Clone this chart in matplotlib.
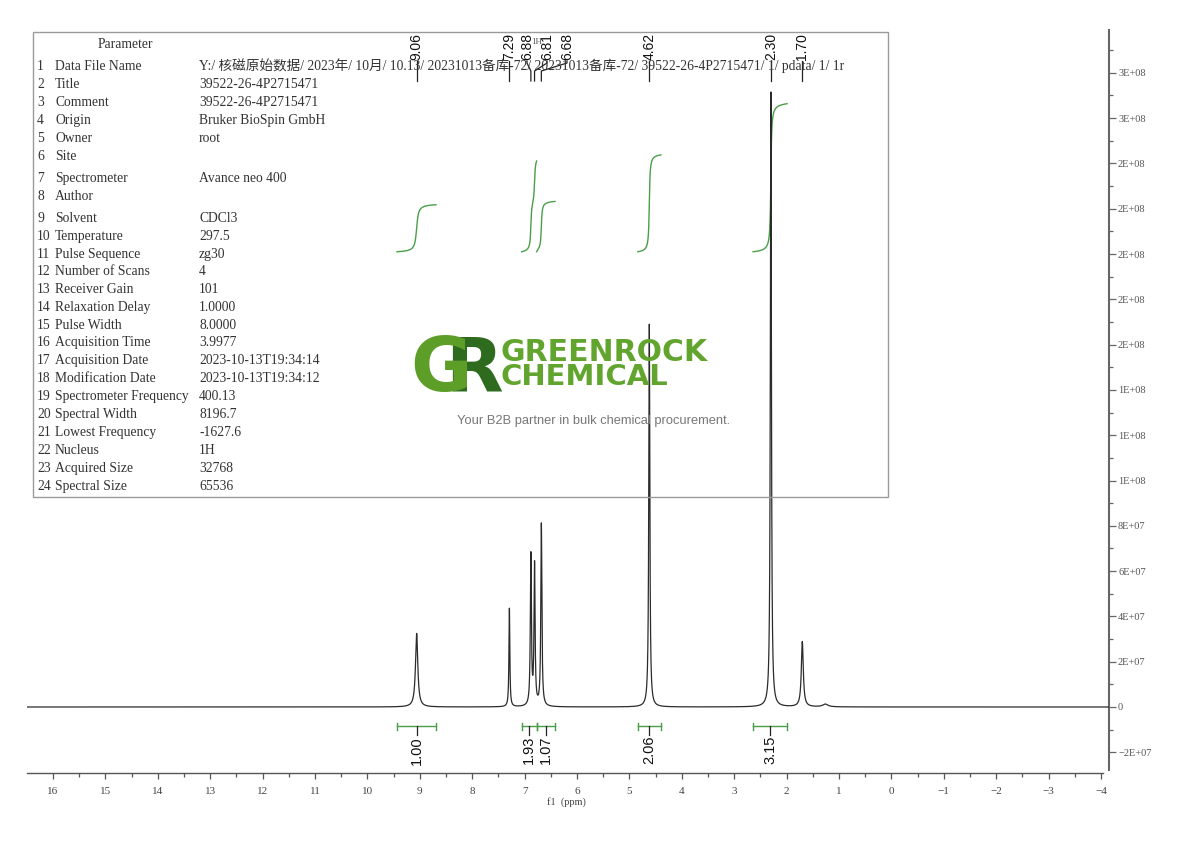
import numpy as np
import matplotlib
matplotlib.use('Agg')
import matplotlib.pyplot as plt
from matplotlib.ticker import FixedLocator, FuncFormatter
from matplotlib.transforms import blended_transform_factory

# ---------------- data ----------------
peak_ppm = [9.06, 7.29, 6.88, 6.81, 6.68, 4.62, 2.30, 1.70, 1.26]
peak_height = [3.25e7, 4.35e7, 6.65e7, 6.2e7, 8.05e7, 1.69e8, 2.715e8, 2.88e7, 1.2e6]
peak_hwhm = [0.026, 0.010, 0.012, 0.012, 0.012, 0.012, 0.012, 0.022, 0.06]

peak_labels = ['9.06', '7.29', '6.88', '6.81', '6.68', '4.62', '2.30', '1.70']
peak_label_ppm = [9.06, 7.29, 6.88, 6.81, 6.68, 4.62, 2.30, 1.70]

integral_from = [9.435, 7.055, 6.77, 4.84, 2.64]
integral_to = [8.69, 6.77, 6.42, 4.40, 1.99]
integral_values = [1.00, 1.93, 1.07, 2.06, 3.15]

param_names = ['Data File Name', 'Title', 'Comment', 'Origin', 'Owner', 'Site',
               'Spectrometer', 'Author', 'Solvent', 'Temperature', 'Pulse Sequence',
               'Number of Scans', 'Receiver Gain', 'Relaxation Delay', 'Pulse Width',
               'Acquisition Time', 'Acquisition Date', 'Modification Date',
               'Spectrometer Frequency', 'Spectral Width', 'Lowest Frequency',
               'Nucleus', 'Acquired Size', 'Spectral Size']
param_values = ['Y:/ 核磁原始数据/ 2023年/ 10月/ 10.13/ 20231013备库-72/ 20231013备库-72/ 39522-26-4P2715471/ 1/ pdata/ 1/ 1r',
                '39522-26-4P2715471', '39522-26-4P2715471', 'Bruker BioSpin GmbH', 'root', '',
                'Avance neo 400', '', 'CDCl3', '297.5', 'zg30', '4', '101', '1.0000', '8.0000',
                '3.9977', '2023-10-13T19:34:14', '2023-10-13T19:34:12', '400.13', '8196.7',
                '-1627.6', '1H', '32768', '65536']

x_major = list(range(-4, 17))
y_major = [v * 1e7 for v in range(-2, 29, 2)]

# ---------------- layout helpers ----------------
W, H = 1190, 841
fig = plt.figure(figsize=(W / 100, H / 100), dpi=100)
ax_left, ax_right, ax_top, ax_bottom = 27, 1109, 30, 773
ax = fig.add_axes([ax_left / W, 1 - ax_bottom / H, (ax_right - ax_left) / W, (ax_bottom - ax_top) / H])
XL, XR = 16.496, -4.153
ax.set_xlim(XL, XR)
ax.set_ylim(-2.914e7, 2.989e8)

def fy(py):
    return 1 - py / H

def fx(px):
    return px / W

def px_to_ppm(px):
    return XL - (px - ax_left) / (ax_right - ax_left) * (XL - XR)

serif = ['Liberation Serif', 'Noto Sans CJK SC', 'DejaVu Sans']
sans = ['Liberation Sans', 'DejaVu Sans']

# ---------------- spectrum ----------------
x = np.linspace(16.5, -4.2, 42000)
y = np.zeros_like(x)
for p, h, g in zip(peak_ppm, peak_height, peak_hwhm):
    y += h / (1 + ((x - p) / g) ** 2)
ax.plot(x, y, color='#2b2b2b', lw=0.9, zorder=5)

# ---------------- integrals ----------------
green = '#4a9e48'
int_base = 2.01e8
int_unit = 2.075e7
for a, b, v in zip(integral_from, integral_to, integral_values):
    m = (x <= a) & (x >= b)
    xs = x[m]
    cs = np.cumsum(y[m])
    cs = (cs - cs[0]) / (cs[-1] - cs[0])
    ax.plot(xs, int_base + cs * v * int_unit, color=green, lw=1.0, zorder=4)

bt = blended_transform_factory(ax.transData, fig.transFigure)
for a, b, v in zip(integral_from, integral_to, integral_values):
    c = (a + b) / 2
    ax.plot([a, b], [fy(726), fy(726)], color=green, lw=1.0, transform=bt, clip_on=False)
    for e in (a, b):
        ax.plot([e, e], [fy(722.5), fy(729.5)], color=green, lw=1.0, transform=bt, clip_on=False)
    ax.plot([c, c], [fy(726), fy(735)], color='#222222', lw=0.9, transform=bt, clip_on=False)
    ax.text(c, fy(736), f'{v:.2f}', rotation=90, ha='center', va='top', fontsize=10.5,
            family=sans, color='#111111', transform=bt)

# ---------------- peak labels ----------------
label_px_override = {'6.88': 527, '6.81': 547, '6.68': 567}
for lab, p in zip(peak_labels, peak_label_ppm):
    if lab in label_px_override:
        lx = px_to_ppm(label_px_override[lab])
        ax.plot([lx, lx, p, p], [fy(61), fy(63), fy(71), fy(81)], color='#222222', lw=0.9,
                transform=bt, clip_on=False)
    else:
        lx = p
        ax.plot([p, p], [fy(61), fy(81)], color='#222222', lw=0.9, transform=bt, clip_on=False)
    ax.text(lx, fy(60), lab, rotation=90, ha='center', va='bottom', fontsize=10,
            family=sans, color='#111111', transform=bt)

fig.text(fx(537), fy(42), '1H', fontsize=6.5, family=serif, color='#555555', ha='center', va='center')

# ---------------- axes styling ----------------
for s in ('left', 'top'):
    ax.spines[s].set_visible(False)
ax.spines['bottom'].set_bounds(-4.04, XL)
ax.spines['right'].set_bounds(-2.78e7, 2.989e8)
ax.spines['bottom'].set_color('#555555')
ax.spines['right'].set_color('#666666')
ax.spines['bottom'].set_linewidth(1.0)
ax.spines['right'].set_linewidth(1.5)

ax.xaxis.set_major_locator(FixedLocator(x_major))
ax.xaxis.set_minor_locator(FixedLocator([v + 0.5 for v in x_major[:-1]]))
ax.yaxis.tick_right()
ax.yaxis.set_major_locator(FixedLocator(y_major))
ax.yaxis.set_minor_locator(FixedLocator([v + 1e7 for v in y_major]))

def yfmt(v, pos):
    if abs(v) < 1:
        return '0'
    return ('%.0E' % v).replace('-', '\u2212')

def xfmt(v, pos):
    return ('%d' % v).replace('-', '\u2212')

ax.yaxis.set_major_formatter(FuncFormatter(yfmt))
ax.xaxis.set_major_formatter(FuncFormatter(xfmt))
ax.tick_params(axis='x', which='major', direction='out', length=4, width=0.9, color='#555555',
               labelsize=8, labelcolor='#444444', pad=6)
ax.tick_params(axis='x', which='minor', direction='out', length=3, width=0.9, color='#555555')
ax.tick_params(axis='y', which='major', direction='out', length=5, width=0.9, color='#666666',
               labelsize=7.5, labelcolor='#555555', pad=1.5)
ax.tick_params(axis='y', which='minor', direction='out', length=3, width=0.9, color='#666666')
for t in ax.get_xticklabels() + ax.get_yticklabels():
    t.set_family(serif)
ax.patch.set_alpha(0)

fig.text(fx(566), fy(802), 'f1  (ppm)', fontsize=7.5, family=serif, color='#444444',
         ha='center', va='center')

# ---------------- parameter table ----------------
fig.patches.append(plt.Rectangle((fx(33), fy(497)), fx(888) - fx(33), fy(32) - fy(497),
                                 transform=fig.transFigure, fill=False, edgecolor='#9a9a9a',
                                 lw=1.0, zorder=1))
row_y = [65, 83, 101, 119, 137, 155, 177, 195, 217, 235, 253, 270, 288, 306, 324, 341,
         359, 377, 395, 413, 431, 449, 467, 485]
tfs = 9.8
fig.text(fx(125), fy(48), 'Parameter', fontsize=tfs, family=serif, color='#333333',
         ha='center', va='baseline')
for i, (nm, val, ry) in enumerate(zip(param_names, param_values, row_y)):
    yb = fy(ry + 5)
    fig.text(fx(37), yb, f'{i + 1}', fontsize=tfs, family=serif, color='#333333',
             ha='left', va='baseline')
    fig.text(fx(55), yb, nm, fontsize=tfs, family=serif, color='#333333',
             ha='left', va='baseline')
    if val:
        fig.text(fx(199), yb, val, fontsize=tfs, family=serif, color='#333333',
                 ha='left', va='baseline')

# ---------------- watermark ----------------
fig.text(fx(474), fy(371), 'R', fontsize=54, fontweight='bold', family=['DejaVu Sans'],
         color='#2e6b1f', ha='center', va='center', zorder=2)
fig.text(fx(441), fy(371), 'G', fontsize=54, fontweight='bold', family=['DejaVu Sans'],
         color='#5c9e28', ha='center', va='center', zorder=2)
fig.text(fx(500), fy(353), 'GREENROCK', fontsize=21.5, fontweight='bold', family=['DejaVu Sans'],
         color='#62a52e', ha='left', va='center', zorder=2)
fig.text(fx(500), fy(377), 'CHEMICAL', fontsize=21, fontweight='bold', family=['DejaVu Sans'],
         color='#62a52e', ha='left', va='center', zorder=2)
fig.text(fx(594), fy(421), 'Your B2B partner in bulk chemical procurement.', fontsize=9.3,
         family=sans, color='#777777', ha='center', va='center', zorder=2)

fig.savefig('out.png', dpi=100)
